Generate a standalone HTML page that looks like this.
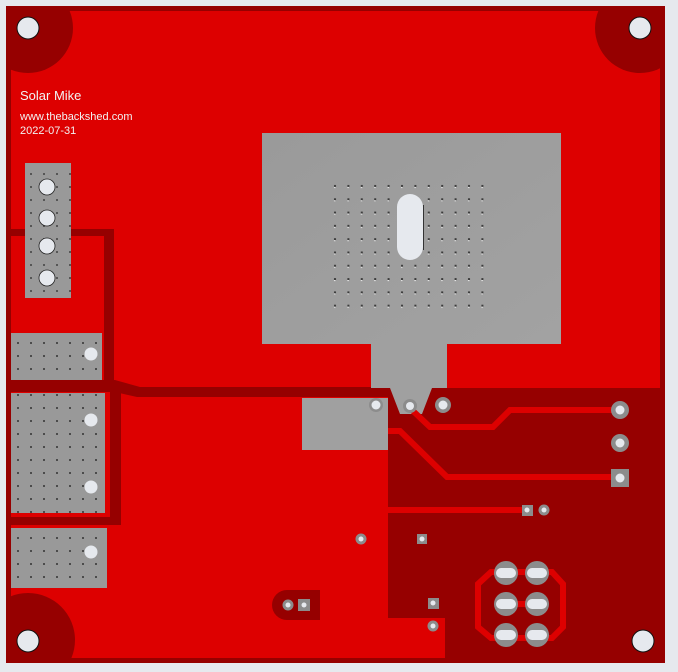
<!DOCTYPE html>
<html><head><meta charset="utf-8"><style>
html,body{margin:0;padding:0;background:#e6e9ee;}
svg{display:block}
</style></head><body>
<svg width="678" height="672" viewBox="0 0 678 672" xmlns="http://www.w3.org/2000/svg">
<defs>
<clipPath id="board"><rect x="6" y="6" width="659" height="657"/></clipPath>
<pattern id="dots" x="329" y="181" width="13.4" height="13.3" patternUnits="userSpaceOnUse">
<rect x="5" y="4" width="2" height="2" fill="#3a3a3a"/><rect x="5" y="6" width="1.5" height="1" fill="#eee"/>
</pattern>
<pattern id="dots2" x="14" y="0" width="13" height="13" patternUnits="userSpaceOnUse">
<rect x="3" y="4" width="2" height="2" fill="#2a2a2a"/>
</pattern>
<linearGradient id="g" x1="0" y1="0" x2="1" y2="1"><stop offset="0" stop-color="#9a9a9a"/><stop offset="1" stop-color="#a2a2a2"/></linearGradient>
</defs>
<rect width="678" height="672" fill="#e6e9ee"/>
<g clip-path="url(#board)">
<rect x="6" y="6" width="659" height="657" fill="#960000"/>
<rect x="11" y="11" width="649" height="649" fill="#dd0000"/>
<circle cx="28" cy="28" r="45" fill="#960000"/>
<circle cx="640" cy="28" r="45" fill="#960000"/>
<circle cx="28" cy="640" r="47" fill="#960000"/>
<rect x="6" y="6" width="5" height="657" fill="#960000"/>
<rect x="6" y="658" width="659" height="5" fill="#960000"/>
</g>
<polygon points="388,388 660,388 660,660 445,660 445,618 388,618" fill="#960000"/>
<polygon points="11,380 115,380 140,387 388,387 388,397 137,397 115,392 11,392" fill="#960000"/>
<rect x="11" y="229" width="103" height="7" fill="#960000"/>
<rect x="104" y="229" width="10" height="160" fill="#960000"/>
<rect x="110" y="388" width="11" height="137" rx="3" fill="#960000"/>
<rect x="11" y="517" width="110" height="8" fill="#960000"/>
<path d="M320,590 L287,590 A15,15 0 0 0 287,620 L320,620 Z" fill="#960000"/>
<rect x="262" y="133" width="299" height="211" fill="url(#g)"/>
<polygon points="371,344 447,344 447,388 432,388 422,414 400,414 390,388 371,388" fill="#a0a0a0"/>
<rect x="329" y="181" width="162" height="133" fill="url(#dots)"/>
<rect x="397" y="194" width="26" height="66" rx="13" fill="#e6e9ee"/>
<line x1="423.5" y1="205" x2="423.5" y2="250" stroke="#333" stroke-width="1"/>
<rect x="25" y="163" width="46" height="135" fill="#999"/>
<rect x="25" y="163" width="46" height="135" fill="url(#dots2)" opacity="0.6"/>
<g fill="#e6e9ee" stroke="#222" stroke-width="0.8">
<circle cx="47" cy="187" r="8"/><circle cx="47" cy="218" r="8"/><circle cx="47" cy="246" r="8"/><circle cx="47" cy="278" r="8"/>
</g>
<rect x="11" y="333" width="91" height="47" fill="#999"/>
<rect x="11" y="393" width="94" height="120" fill="#999"/>
<rect x="11" y="528" width="96" height="60" fill="#999"/>
<rect x="11" y="333" width="91" height="47" fill="url(#dots2)" opacity="0.7"/>
<rect x="11" y="393" width="94" height="120" fill="url(#dots2)" opacity="0.7"/>
<rect x="11" y="528" width="96" height="60" fill="url(#dots2)" opacity="0.7"/>
<rect x="302" y="398" width="86" height="52" fill="#a0a0a0"/>
<g fill="#e6e9ee">
<circle cx="91" cy="354" r="6.5"/><circle cx="91" cy="420" r="6.5"/><circle cx="91" cy="487" r="6.5"/><circle cx="91" cy="552" r="6.5"/>
</g>
<g fill="none" stroke="#dd0000" stroke-width="6">
<polyline points="412,410 430,427 493,427 510,410 620,410"/>
<polyline points="388,431 400,431 447,477 620,477"/>
<line x1="388" y1="510" x2="527" y2="510"/>
<polygon points="491,572 552,572 563,584 563,627 552,638 491,638 478,627 478,584"/>
<line x1="506" y1="604" x2="537" y2="604"/>
</g>
<g fill="#8c8c8c">
<circle cx="376" cy="405" r="7"/><circle cx="410" cy="406" r="7"/><circle cx="443" cy="405" r="8"/>
<circle cx="620" cy="410" r="9"/><circle cx="620" cy="443" r="9"/><rect x="611" y="469" width="18" height="18"/>
<rect x="522" y="505" width="11" height="11"/><circle cx="544" cy="510" r="5.5"/>
<circle cx="361" cy="539" r="5.5"/><rect x="417" y="534" width="10" height="10"/>
<rect x="428" y="598" width="11" height="11"/><circle cx="433" cy="626" r="5.5"/>
<circle cx="288" cy="605" r="5.5"/><rect x="298" y="599" width="12" height="12"/>
<circle cx="506" cy="573" r="12"/><circle cx="537" cy="573" r="12"/>
<circle cx="506" cy="604" r="12"/><circle cx="537" cy="604" r="12"/>
<circle cx="506" cy="635" r="12"/><circle cx="537" cy="635" r="12"/>
</g>
<g fill="#e6e9ee">
<circle cx="376" cy="405" r="4.5"/><circle cx="410" cy="406" r="4"/><circle cx="443" cy="405" r="4.5"/>
<circle cx="620" cy="410" r="4.5"/><circle cx="620" cy="443" r="4.5"/><circle cx="620" cy="478" r="4.5"/>
<circle cx="527" cy="510" r="2.5"/><circle cx="544" cy="510" r="2.5"/><circle cx="361" cy="539" r="2.5"/>
<circle cx="422" cy="539" r="2.5"/><circle cx="433" cy="603" r="2.5"/><circle cx="433" cy="626" r="2.5"/>
<circle cx="288" cy="605" r="2.5"/><circle cx="304" cy="605" r="2.5"/>
<rect x="496" y="568" width="20" height="10" rx="5"/><rect x="527" y="568" width="20" height="10" rx="5"/>
<rect x="496" y="599" width="20" height="10" rx="5"/><rect x="527" y="599" width="20" height="10" rx="5"/>
<rect x="496" y="630" width="20" height="10" rx="5"/><rect x="527" y="630" width="20" height="10" rx="5"/>
</g>
<g fill="#e6e9ee" stroke="#111" stroke-width="1">
<circle cx="28" cy="28" r="11"/><circle cx="640" cy="28" r="11"/><circle cx="28" cy="641" r="11"/><circle cx="643" cy="641" r="11"/>
</g>
<g fill="#f2f2f2" font-family="Liberation Sans, sans-serif">
<text x="20" y="100" font-size="13">Solar Mike</text>
<text x="20" y="120" font-size="11">www.thebackshed.com</text>
<text x="20" y="134" font-size="11">2022-07-31</text>
</g>
</svg>
</body></html>
